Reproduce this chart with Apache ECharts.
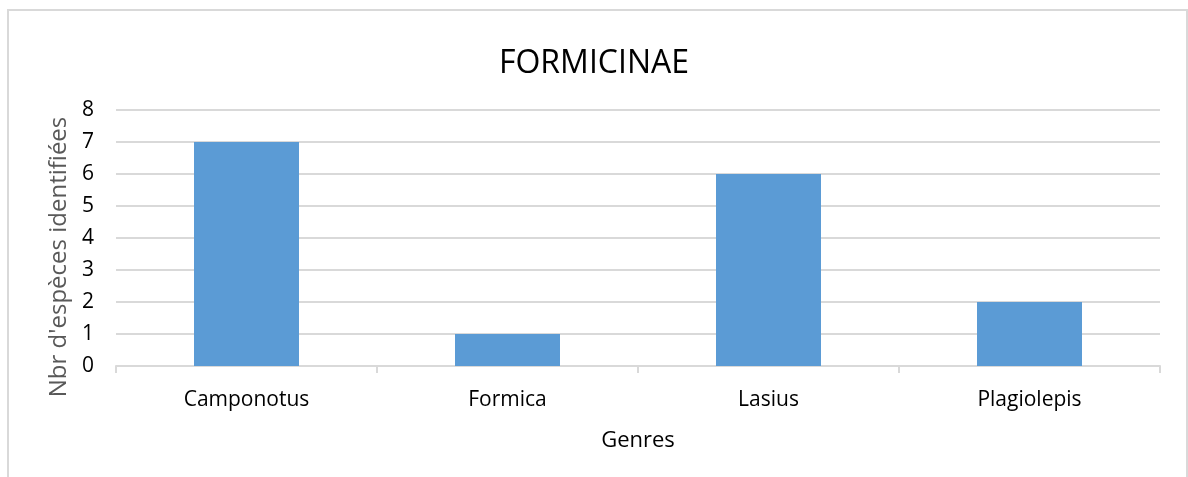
<!DOCTYPE html>
<html>
<head>
<meta charset="utf-8">
<script src="https://cdn.jsdelivr.net/npm/echarts@6/dist/echarts.min.js"></script>
<style>
html,body{margin:0;padding:0;background:#fff;}
#chart{width:1188px;height:477px;}
</style>
</head>
<body>
<div id="chart"></div>
<script>
const title = "FORMICINAE";
const categories = ["Camponotus", "Formica", "Lasius", "Plagiolepis"];
const values = [7, 1, 6, 2];
const yTicks = [0, 1, 2, 3, 4, 5, 6, 7, 8];
const xName = "Genres";
const yName = "Nbr d'espèces identifiées";

const FONT = "'Open Sans', 'Noto Sans', sans-serif";
const chart = echarts.init(document.getElementById('chart'), null, {renderer: 'canvas'});
chart.setOption({
  backgroundColor: '#ffffff',
  animation: false,
  title: {
    text: title,
    left: 'center',
    top: 43,
    textStyle: {fontFamily: FONT, fontSize: 32, fontWeight: 'normal', color: '#000000'}
  },
  graphic: [{
    type: 'rect',
    shape: {x: 8, y: 10, width: 1179, height: 480},
    style: {fill: 'none', stroke: '#d9d9d9', lineWidth: 2},
    silent: true
  }],
  grid: {left: 116, right: 28, top: 110, bottom: 111, containLabel: false},
  xAxis: {
    type: 'category',
    data: categories,
    name: xName,
    nameLocation: 'middle',
    nameGap: 64,
    nameTextStyle: {fontFamily: FONT, fontSize: 22, color: '#000000'},
    axisLine: {show: true, lineStyle: {color: '#d9d9d9', width: 2}},
    axisTick: {show: true, alignWithLabel: false, length: 7, lineStyle: {color: '#d9d9d9', width: 2}},
    axisLabel: {fontFamily: FONT, fontSize: 21, color: '#000000', margin: 24},
    splitLine: {show: false}
  },
  yAxis: {
    type: 'value',
    min: yTicks[0],
    max: yTicks[yTicks.length - 1],
    interval: 1,
    name: yName,
    nameLocation: 'middle',
    nameGap: 36,
    nameTextStyle: {fontFamily: FONT, fontSize: 24, color: '#595959', padding: [0, 38, 0, 0]},
    axisLine: {show: false},
    axisTick: {show: false},
    axisLabel: {fontFamily: FONT, fontSize: 21, color: '#000000', margin: 22, padding: [9, 0, 0, 0]},
    splitLine: {show: true, lineStyle: {color: '#d9d9d9', width: 2}}
  },
  series: [{
    type: 'bar',
    data: values,
    barWidth: 105,
    itemStyle: {color: '#5b9bd5'}
  }]
});
</script>
</body>
</html>
